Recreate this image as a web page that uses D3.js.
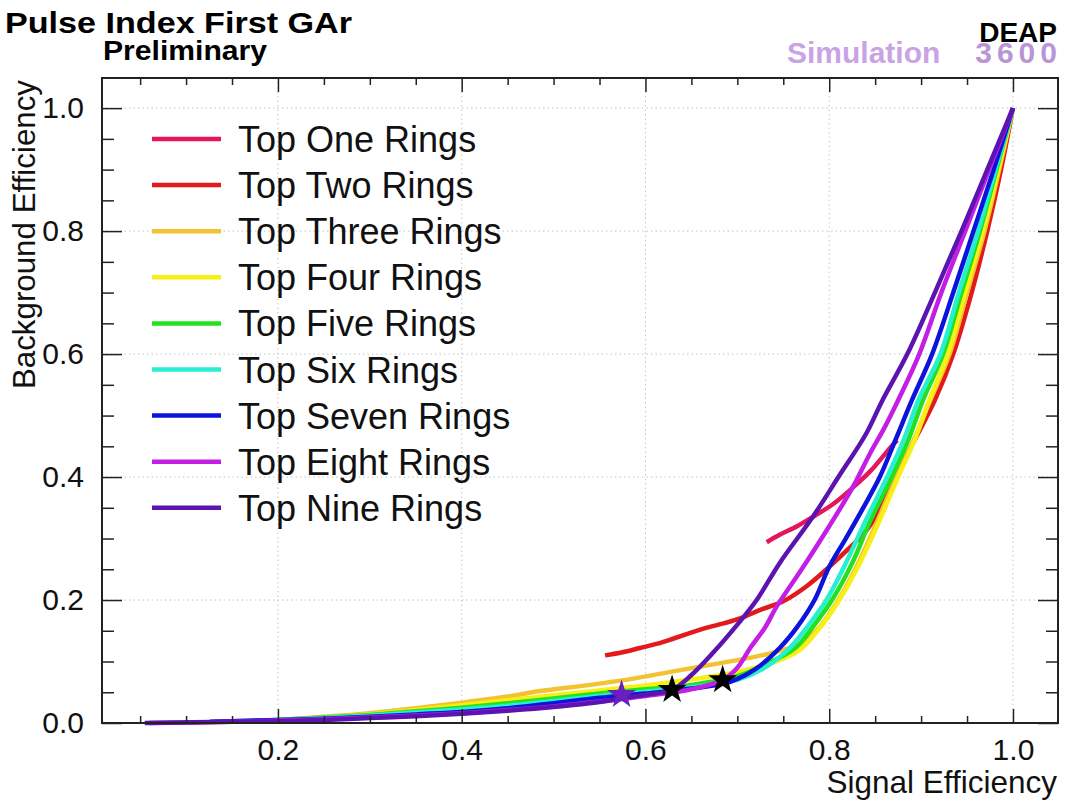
<!DOCTYPE html>
<html>
<head>
<meta charset="utf-8">
<script src="https://cdn.jsdelivr.net/npm/d3@7"></script>
<style>
  html, body { margin: 0; padding: 0; background: #fff; }
  svg { display: block; font-family: "Liberation Sans", Arial, Helvetica, sans-serif; }
</style>
</head>
<body>
<svg id="chart" width="1071" height="800"></svg>
<script>
// ---------------- data ----------------
const seriesNames = ["Top One Rings","Top Two Rings","Top Three Rings","Top Four Rings","Top Five Rings","Top Six Rings","Top Seven Rings","Top Eight Rings","Top Nine Rings"];
const seriesColors = ["#e3175f","#e31a1c","#f2c230","#f7f015","#22e21e","#27f0d2","#0c14dc","#c41de6","#5c14b0"];

const oneX = [0.732,0.746,0.765,0.782,0.805,0.825,0.845,0.866,0.874];
const oneY = [0.294,0.306,0.320,0.335,0.357,0.382,0.410,0.447,0.460];

const twoX = [0.556,0.575,0.594,0.613,0.630,0.648,0.667,0.685,0.703,0.725,0.750,0.775,0.800,0.820,0.841,0.858,0.874,0.895,0.915,0.935,0.955,0.972,0.987,1.0];
const twoY = [0.110,0.115,0.122,0.129,0.137,0.146,0.155,0.162,0.170,0.184,0.198,0.222,0.254,0.282,0.314,0.356,0.406,0.466,0.525,0.600,0.700,0.800,0.900,1.0];

const threeX = [0.19,0.25,0.30,0.35,0.40,0.45,0.485,0.54,0.59,0.638,0.68,0.72,0.745,0.77,0.79,0.81,0.83,0.85,0.873,0.892,0.91,0.931,0.95,0.969,0.985,1.0];
const threeY = [0.004,0.010,0.016,0.024,0.033,0.043,0.052,0.062,0.073,0.086,0.097,0.108,0.117,0.130,0.157,0.20,0.255,0.32,0.40,0.46,0.525,0.60,0.70,0.80,0.90,1.0];

const fourX = [0.20,0.25,0.30,0.35,0.40,0.45,0.50,0.55,0.60,0.65,0.70,0.74,0.768,0.79,0.811,0.83,0.852,0.875,0.893,0.909,0.929,0.948,0.967,0.984,1.0];
const fourY = [0.003,0.008,0.014,0.021,0.029,0.037,0.045,0.053,0.061,0.071,0.083,0.099,0.119,0.155,0.20,0.25,0.32,0.40,0.46,0.525,0.60,0.70,0.80,0.90,1.0];

const fiveX = [0.15,0.20,0.25,0.30,0.35,0.40,0.45,0.50,0.55,0.60,0.65,0.70,0.73,0.763,0.783,0.803,0.825,0.845,0.868,0.886,0.902,0.924,0.944,0.964,0.982,1.0];
const fiveY = [0.002,0.005,0.009,0.013,0.019,0.025,0.032,0.040,0.048,0.055,0.062,0.076,0.095,0.122,0.158,0.20,0.26,0.33,0.40,0.46,0.525,0.60,0.70,0.80,0.90,1.0];

const sixX = [0.13,0.20,0.25,0.30,0.35,0.40,0.45,0.50,0.55,0.60,0.65,0.70,0.73,0.757,0.777,0.797,0.818,0.84,0.863,0.881,0.897,0.921,0.941,0.962,0.981,1.0];
const sixY = [0.002,0.005,0.008,0.012,0.017,0.022,0.028,0.036,0.044,0.051,0.058,0.070,0.090,0.122,0.158,0.20,0.26,0.33,0.40,0.46,0.525,0.60,0.70,0.80,0.90,1.0];

const sevenX = [0.126,0.20,0.25,0.30,0.35,0.40,0.45,0.50,0.55,0.60,0.65,0.692,0.72,0.746,0.766,0.784,0.80,0.818,0.837,0.855,0.872,0.890,0.912,0.935,0.957,0.979,1.0];
const sevenY = [0.002,0.005,0.007,0.010,0.014,0.018,0.024,0.032,0.041,0.048,0.056,0.067,0.088,0.122,0.158,0.20,0.254,0.30,0.35,0.40,0.46,0.525,0.60,0.70,0.80,0.90,1.0];

const eightX = [0.06,0.15,0.20,0.25,0.30,0.35,0.40,0.45,0.50,0.55,0.60,0.65,0.684,0.70,0.714,0.73,0.743,0.77,0.80,0.825,0.845,0.860,0.875,0.898,0.922,0.948,0.974,1.0];
const eightY = [0.000,0.002,0.004,0.006,0.009,0.012,0.016,0.021,0.027,0.035,0.044,0.055,0.070,0.090,0.122,0.155,0.19,0.25,0.32,0.382,0.44,0.48,0.525,0.60,0.70,0.80,0.90,1.0];

const nineX = [0.055,0.15,0.20,0.25,0.30,0.35,0.40,0.45,0.50,0.55,0.573,0.60,0.629,0.65,0.674,0.70,0.721,0.746,0.782,0.81,0.84,0.858,0.885,0.915,0.944,0.972,1.0];
const nineY = [0.000,0.002,0.003,0.005,0.008,0.011,0.015,0.020,0.026,0.034,0.040,0.046,0.054,0.078,0.115,0.16,0.20,0.26,0.335,0.40,0.47,0.525,0.60,0.70,0.80,0.90,1.0];

const markerX = [0.574, 0.629, 0.684];
const markerY = [0.046, 0.054, 0.070];
const markerColors = ["#6a1fc0", "#000000", "#000000"];

const xMajorTicks = [0.2, 0.4, 0.6, 0.8, 1.0];
const yMajorTicks = [0.0, 0.2, 0.4, 0.6, 0.8, 1.0];
const minorTicks = [0.05,0.1,0.15,0.2,0.25,0.3,0.35,0.4,0.45,0.5,0.55,0.6,0.65,0.7,0.75,0.8,0.85,0.9,0.95,1.0];

const titleText = "Pulse Index First GAr";
const subtitleText = "Preliminary";
const xTitle = "Signal Efficiency";
const yTitle = "Background Efficiency";

// ---------------- drawing ----------------
const seriesX = [oneX, twoX, threeX, fourX, fiveX, sixX, sevenX, eightX, nineX];
const seriesY = [oneY, twoY, threeY, fourY, fiveY, sixY, sevenY, eightY, nineY];
const series = seriesNames.map((name, i) => ({
  name, color: seriesColors[i],
  pts: seriesX[i].map((v, j) => [v, seriesY[i][j]])
}));

const svg = d3.select("#chart");
const L = 102, R = 1058, T = 78, B = 723;
const x = d3.scaleLinear().domain([0.0085, 1.049]).range([L, R]);
const y = d3.scaleLinear().domain([0, 1.049]).range([B, T]);
const fmt = d3.format(".1f");

// grid
const grid = svg.append("g").attr("stroke", "#c4c4c4").attr("stroke-width", 1).attr("stroke-dasharray", "1.5,3");
grid.selectAll("line.gx").data(xMajorTicks).join("line")
  .attr("x1", d => x(d)).attr("x2", d => x(d)).attr("y1", T).attr("y2", B);
grid.selectAll("line.gy").data(yMajorTicks.filter(d => d > 0)).join("line")
  .attr("y1", d => y(d)).attr("y2", d => y(d)).attr("x1", L).attr("x2", R);

// curves
const line = d3.line().x(d => x(d[0])).y(d => y(d[1])).curve(d3.curveCatmullRom.alpha(0.5));
const gCurves = svg.append("g");
series.forEach(s => {
  gCurves.append("path").attr("d", line(s.pts)).attr("fill", "none")
    .attr("stroke", s.color).attr("stroke-width", 4.5)
    .attr("stroke-linejoin", "round").attr("stroke-linecap", "butt");
});

// markers
const star = d3.symbol().type(d3.symbolStar).size(260);
svg.append("g").selectAll("path").data(markerX).join("path")
  .attr("d", star)
  .attr("transform", (d, i) => `translate(${x(d)},${y(markerY[i])})`)
  .attr("fill", (d, i) => markerColors[i]);

// axes ticks (inward, on all four sides)
function tickAxis(axisFn, scale, vals, size, transform) {
  const a = axisFn(scale).tickValues(vals).tickSize(size).tickFormat("");
  const g = svg.append("g").attr("transform", transform).call(a);
  g.select(".domain").remove();
  g.selectAll(".tick line").attr("stroke", "#222").attr("stroke-width", 1.5);
  return g;
}
const xMinor = minorTicks.filter(v => !xMajorTicks.includes(v));
const yMinor = minorTicks.filter(v => !yMajorTicks.includes(v));
tickAxis(d3.axisBottom, x, xMinor, -7, `translate(0,${B})`);
tickAxis(d3.axisBottom, x, xMajorTicks, -14, `translate(0,${B})`);
tickAxis(d3.axisTop, x, xMinor, -7, `translate(0,${T})`);
tickAxis(d3.axisTop, x, xMajorTicks, -14, `translate(0,${T})`);
tickAxis(d3.axisLeft, y, yMinor, -12, `translate(${L},0)`);
tickAxis(d3.axisLeft, y, yMajorTicks, -20, `translate(${L},0)`);
tickAxis(d3.axisRight, y, yMinor, -12, `translate(${R},0)`);
tickAxis(d3.axisRight, y, yMajorTicks, -20, `translate(${R},0)`);

// labels
const xl = svg.append("g").attr("transform", `translate(0,${B})`)
  .call(d3.axisBottom(x).tickValues(xMajorTicks).tickSize(0).tickPadding(16).tickFormat(fmt));
xl.select(".domain").remove();
xl.selectAll("text").attr("font-size", 30).attr("fill", "#111").attr("font-family", "Liberation Sans, Arial, sans-serif");

const yl = svg.append("g").attr("transform", `translate(${L},0)`)
  .call(d3.axisLeft(y).tickValues(yMajorTicks).tickSize(0).tickPadding(18).tickFormat(fmt));
yl.select(".domain").remove();
yl.selectAll("text").attr("font-size", 30).attr("fill", "#111").attr("font-family", "Liberation Sans, Arial, sans-serif");

// frame
svg.append("rect").attr("x", L).attr("y", T).attr("width", R - L).attr("height", B - T)
  .attr("fill", "none").attr("stroke", "#222").attr("stroke-width", 2);

// axis titles
svg.append("text").attr("x", 1057).attr("y", 793).attr("text-anchor", "end")
  .attr("font-size", 31.5).attr("fill", "#111").text(xTitle);
svg.append("text").attr("transform", "translate(35,80) rotate(-90)").attr("text-anchor", "end")
  .attr("font-size", 31.3).attr("fill", "#111").text(yTitle);

// titles
svg.append("text").attr("x", 5).attr("y", 33).attr("font-size", 30).attr("font-weight", "bold")
  .attr("textLength", 347).attr("lengthAdjust", "spacingAndGlyphs").attr("fill", "#000").text(titleText);
svg.append("text").attr("x", 103).attr("y", 60).attr("font-size", 27).attr("font-weight", "bold")
  .attr("textLength", 164).attr("lengthAdjust", "spacingAndGlyphs").attr("fill", "#000").text(subtitleText);

// DEAP logo text
svg.append("text").attr("x", 1062).attr("y", 63).attr("text-anchor", "end").attr("font-size", 30)
  .attr("font-weight", "bold").attr("fill", "#b995d6").attr("letter-spacing", 5).text("3600");
svg.append("text").attr("x", 1057).attr("y", 42).attr("text-anchor", "end").attr("font-size", 28)
  .attr("font-weight", "bold").attr("fill", "#000").text("DEAP");
svg.append("text").attr("x", 787).attr("y", 63).attr("font-size", 30)
  .attr("font-weight", "bold").attr("fill", "#c9a3e3").text("Simulation");

// legend
const leg = svg.append("g");
series.forEach((s, i) => {
  const cy = 139 + i * 46.1;
  leg.append("line").attr("x1", 152).attr("x2", 221).attr("y1", cy).attr("y2", cy)
    .attr("stroke", s.color).attr("stroke-width", 4.5);
  leg.append("text").attr("x", 238).attr("y", cy + 13).attr("font-size", 36)
    .attr("fill", "#111").text(s.name);
});
</script>
</body>
</html>
